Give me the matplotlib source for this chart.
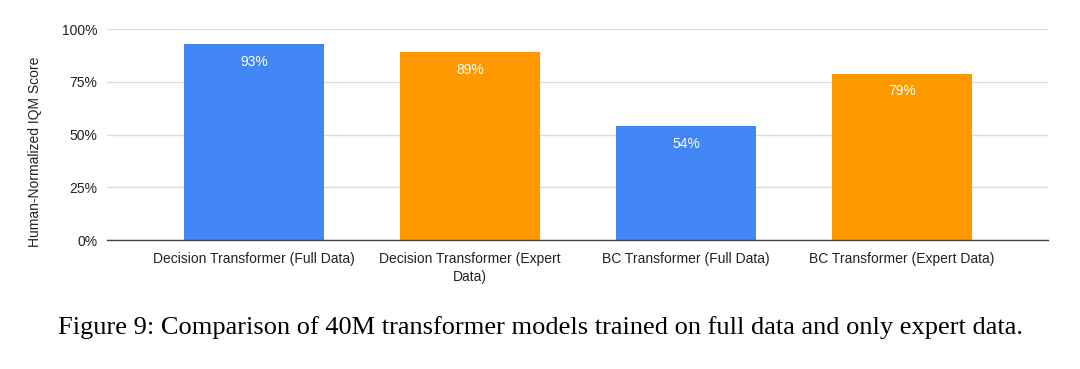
import matplotlib
matplotlib.use("Agg")
import matplotlib.pyplot as plt

categories = ["Decision Transformer (Full Data)", "Decision Transformer (Expert\nData)",
              "BC Transformer (Full Data)", "BC Transformer (Expert Data)"]
values = [93, 89, 54, 79]
colors = ["#4285F4", "#FF9900", "#4285F4", "#FF9900"]
yticks = [0, 25, 50, 75, 100]
caption = "Figure 9: Comparison of 40M transformer models trained on full data and only expert data."

plt.rcParams['font.family'] = ['Liberation Sans', 'DejaVu Sans']
fig = plt.figure(figsize=(10.8, 3.69), dpi=100)
ax = fig.add_axes([107/1080, 1-240/369, (1048-107)/1080, (240-29.3)/369])

x = list(range(len(categories)))
ax.bar(x, values, width=0.65, color=colors, zorder=3)
for xi, v in zip(x, values):
    ax.annotate(f"{v}%", xy=(xi, v), xytext=(0, -7.6), textcoords='offset points',
                ha='center', va='top', color='white', fontsize=10, zorder=4)

ax.set_xlim(-0.681, 3.677)
ax.set_ylim(0, 100)
ax.set_yticks(yticks)
ax.set_yticklabels([f"{t}%" for t in yticks], fontsize=10, color='#222222')
ax.set_xticks(x)
ax.set_xticklabels(categories, fontsize=10, color='#222222', linespacing=1.35)
ax.tick_params(axis='x', length=0, pad=8.5)
ax.tick_params(axis='y', length=0, pad=7)
ax.grid(axis='y', color='#dddddd', linewidth=1, zorder=0)
for s in ['top', 'right', 'left']:
    ax.spines[s].set_visible(False)
ax.spines['bottom'].set_color('#444444')
ax.spines['bottom'].set_linewidth(1)
ax.spines['bottom'].set_zorder(5)
ax.set_ylabel("Human-Normalized IQM Score", fontsize=10, color='#222222')
ax.yaxis.set_label_coords(-0.069, 0.418)

fig.text(0.5, 1-328/369, caption, ha='center', va='center', fontsize=19,
         family=['Liberation Serif', 'DejaVu Serif'], color='black')

fig.savefig("out.png", dpi=100)
